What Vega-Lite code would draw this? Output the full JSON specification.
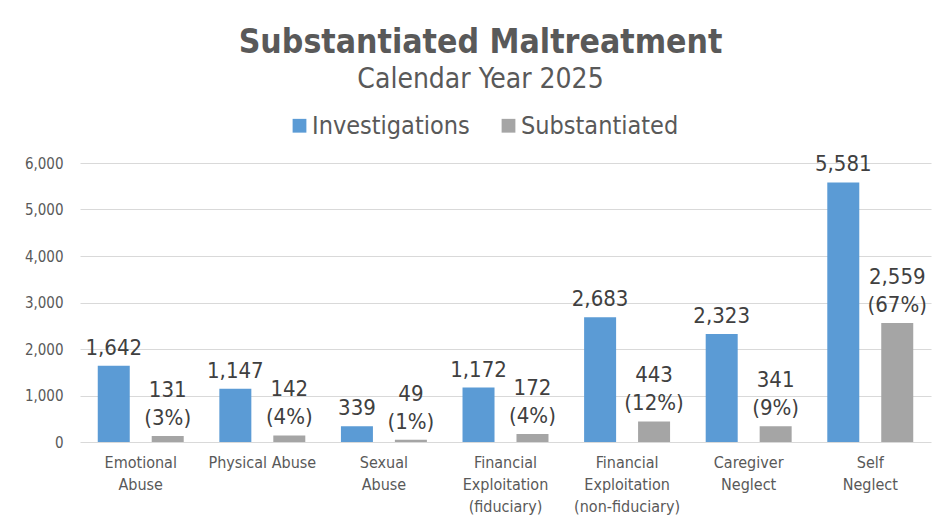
{
  "$schema": "https://vega.github.io/schema/vega-lite/v6.json",
  "width": 851,
  "height": 279,
  "autosize": {"type": "none"},
  "padding": {"left": 80, "top": 163, "right": 21, "bottom": 80},
  "background": "white",
  "view": {"stroke": null},
  "title": {
    "text": "Substantiated Maltreatment",
    "subtitle": "Calendar Year 2025",
    "anchor": "middle",
    "frame": "group",
    "dx": -25,
    "offset": 18,
    "font": "DejaVu Sans Condensed, DejaVu Sans",
    "fontSize": 33.5,
    "fontWeight": "bold",
    "color": "#595959",
    "subtitleFont": "DejaVu Sans Condensed, DejaVu Sans",
    "subtitleFontSize": 28,
    "subtitleColor": "#595959",
    "subtitlePadding": 6
  },
  "data": {
    "values": [
      {"cat": "Emotional|Abuse", "series": "Investigations", "value": 1642, "label": "1,642", "pct": ""},
      {"cat": "Emotional|Abuse", "series": "Substantiated", "value": 131, "label": "131", "pct": "(3%)"},
      {"cat": "Physical Abuse", "series": "Investigations", "value": 1147, "label": "1,147", "pct": ""},
      {"cat": "Physical Abuse", "series": "Substantiated", "value": 142, "label": "142", "pct": "(4%)"},
      {"cat": "Sexual|Abuse", "series": "Investigations", "value": 339, "label": "339", "pct": ""},
      {"cat": "Sexual|Abuse", "series": "Substantiated", "value": 49, "label": "49", "pct": "(1%)"},
      {"cat": "Financial|Exploitation|(fiduciary)", "series": "Investigations", "value": 1172, "label": "1,172", "pct": ""},
      {"cat": "Financial|Exploitation|(fiduciary)", "series": "Substantiated", "value": 172, "label": "172", "pct": "(4%)"},
      {"cat": "Financial|Exploitation|(non-fiduciary)", "series": "Investigations", "value": 2683, "label": "2,683", "pct": ""},
      {"cat": "Financial|Exploitation|(non-fiduciary)", "series": "Substantiated", "value": 443, "label": "443", "pct": "(12%)"},
      {"cat": "Caregiver|Neglect", "series": "Investigations", "value": 2323, "label": "2,323", "pct": ""},
      {"cat": "Caregiver|Neglect", "series": "Substantiated", "value": 341, "label": "341", "pct": "(9%)"},
      {"cat": "Self|Neglect", "series": "Investigations", "value": 5581, "label": "5,581", "pct": ""},
      {"cat": "Self|Neglect", "series": "Substantiated", "value": 2559, "label": "2,559", "pct": "(67%)"}
    ]
  },
  "encoding": {
    "x": {
      "field": "cat",
      "type": "nominal",
      "sort": null,
      "scale": {"paddingInner": 0.293, "paddingOuter": 0.146},
      "axis": {
        "title": null,
        "labelAngle": 0,
        "labelExpr": "split(datum.label, '|')",
        "labelFont": "DejaVu Sans Condensed, DejaVu Sans",
        "labelFontSize": 16,
        "labelLineHeight": 22,
        "labelColor": "#595959",
        "labelPadding": 12,
        "domain": false,
        "ticks": false,
        "labelLimit": 200
      }
    },
    "xOffset": {
      "field": "series",
      "type": "nominal",
      "sort": ["Investigations", "Substantiated"],
      "scale": {"paddingInner": 0.407, "paddingOuter": 0}
    },
    "y": {
      "field": "value",
      "type": "quantitative",
      "scale": {"domain": [0, 6000]},
      "axis": {
        "title": null,
        "values": [0, 1000, 2000, 3000, 4000, 5000, 6000],
        "format": ",.0f",
        "grid": true,
        "gridColor": "#D9D9D9",
        "gridWidth": 1,
        "domain": false,
        "ticks": false,
        "labelFont": "DejaVu Sans Condensed, DejaVu Sans",
        "labelFontSize": 15,
        "labelColor": "#595959",
        "labelPadding": 17
      }
    }
  },
  "layer": [
    {
      "mark": {"type": "bar"},
      "encoding": {
        "color": {
          "field": "series",
          "type": "nominal",
          "scale": {"domain": ["Investigations", "Substantiated"], "range": ["#5B9BD5", "#A5A5A5"]},
          "legend": {
            "title": null,
            "orient": "none",
            "direction": "horizontal",
            "legendX": 207,
            "legendY": -50,
            "symbolType": "square",
            "symbolSize": 190,
            "symbolStrokeWidth": 0,
            "labelFont": "DejaVu Sans Condensed, DejaVu Sans",
            "labelFontSize": 25,
            "labelColor": "#595959",
            "labelOffset": 0,
            "columnPadding": 26,
            "labelLimit": 300
          }
        }
      }
    },
    {
      "transform": [{"filter": "datum.series === 'Investigations'"}],
      "mark": {
        "type": "text",
        "baseline": "bottom",
        "dy": -6,
        "font": "DejaVu Sans Condensed, DejaVu Sans",
        "fontSize": 22,
        "color": "#404040"
      },
      "encoding": {"text": {"field": "label", "type": "nominal"}}
    },
    {
      "transform": [{"filter": "datum.series === 'Substantiated'"}],
      "mark": {
        "type": "text",
        "baseline": "bottom",
        "dy": -34,
        "font": "DejaVu Sans Condensed, DejaVu Sans",
        "fontSize": 22,
        "color": "#404040"
      },
      "encoding": {"text": {"field": "label", "type": "nominal"}}
    },
    {
      "transform": [{"filter": "datum.series === 'Substantiated'"}],
      "mark": {
        "type": "text",
        "baseline": "bottom",
        "dy": -6,
        "font": "DejaVu Sans Condensed, DejaVu Sans",
        "fontSize": 22,
        "color": "#404040"
      },
      "encoding": {"text": {"field": "pct", "type": "nominal"}}
    }
  ]
}
